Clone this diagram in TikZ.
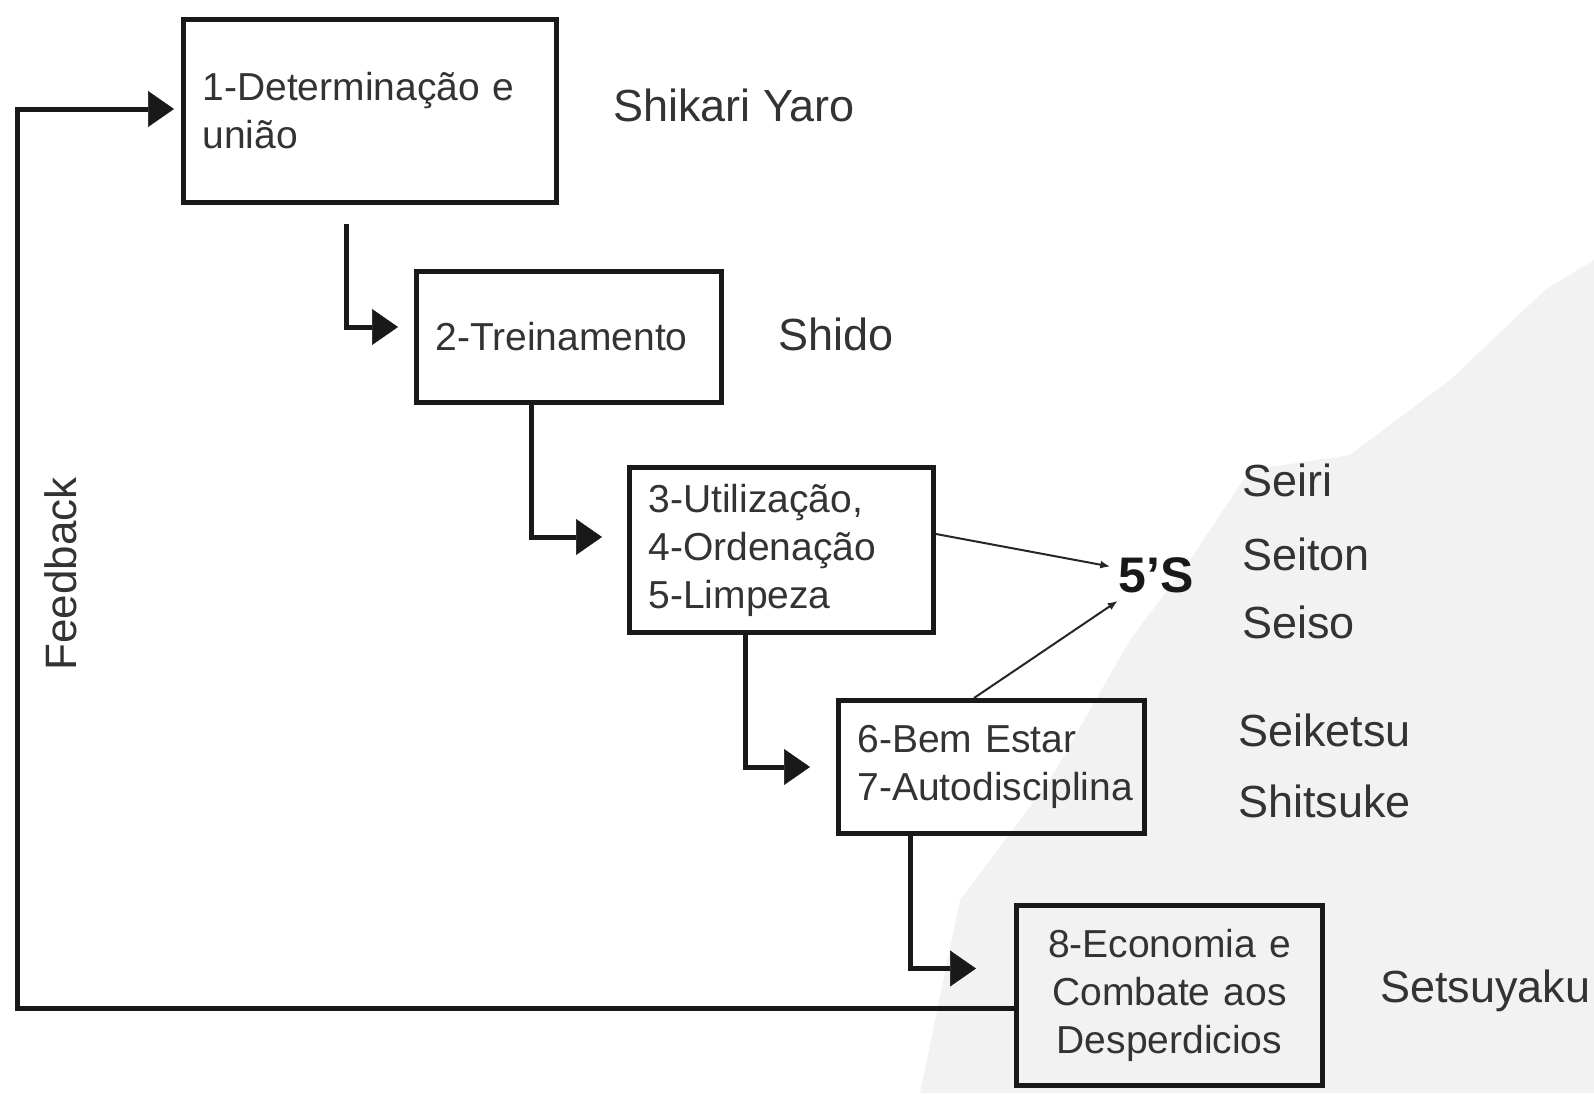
\documentclass[tikz,border=0pt]{standalone}
\usepackage{fontspec}
\setmainfont{Liberation Sans}
\usetikzlibrary{arrows.meta,calc}
\begin{document}
\begin{tikzpicture}[x=1pt,y=-1pt,
  stepbox/.style={draw=black!90, line width=5pt, inner xsep=19pt, inner ysep=0pt,
    align=left, font=\fontsize{39}{48}\selectfont, text=black!80},
  flow/.style={line width=5pt, draw=black!90,
    -{Triangle[length=26pt,width=36pt,line width=0.5pt]}},
  fine/.style={line width=2pt, draw=black!85, -{Latex[length=10pt,width=8pt]}},
  lbl/.style={font=\fontsize{45}{54}\selectfont, text=black!80, anchor=base west, inner sep=0pt},
]
\useasboundingbox (0,0) rectangle (1594,1093);
% faint watermark
\fill[black!5] (920,1093) -- (960,900) -- (1050,780) -- (1130,640) -- (1190,560)
  -- (1250,470) -- (1350,455) -- (1450,380) -- (1545,290) -- (1594,260) -- (1594,1093) -- cycle;

% boxes
\node[stepbox, text width=335pt, minimum height=183pt] (b1) at (370,111)
  {1-Determinação e\\união};
\node[stepbox, text width=267pt, minimum height=131pt] (b2) at (569,337)
  {2-Treinamento};
\node[stepbox, text width=266pt, minimum height=165pt] (b3) at (781.5,550)
  {3-Utilização,\\4-Ordenação\\5-Limpeza};
\node[stepbox, text width=268pt, minimum height=133pt] (b4) at (991.5,767)
  {6-Bem Estar\\\mbox{7-Autodisciplina}};
\node[stepbox, align=center, text width=268pt, minimum height=180pt] (b5) at (1169.5,995.5)
  {8-Economia e\\Combate aos\\Desperdicios};

% side labels
\node[lbl] (l1) at (613,121) {Shikari Yaro};
\node[lbl] (l2) at (778,350) {Shido};
\node[lbl] (l3) at (1242,496) {Seiri};
\node[lbl] (l4) at (1242,570) {Seiton};
\node[lbl] (l5) at (1242,638) {Seiso};
\node[lbl] (l6) at (1238,746) {Seiketsu};
\node[lbl] (l7) at (1238,817) {Shitsuke};
\node[lbl] (l8) at (1380,1002) {Setsuyaku};
\node[font=\bfseries\fontsize{50}{60}\selectfont, text=black!90, inner sep=8pt] (s5) at (1156,575) {5’S};
\node[font=\fontsize{44}{52}\selectfont, text=black!80, rotate=90, inner sep=0pt] (fb) at (61,574) {Feedback};

% connectors
\coordinate (fbc) at (17,500);
\draw[flow] ($(b1.south west)+(165,19)$) |- ($(b2.west)+(-16,-10)$);
\draw[flow] ($(b2.south west)+(117,0)$) |- ($(b3.west)+(-25,-13)$);
\draw[flow] ($(b3.south west)+(118,0)$) |- ($(b4.west)+(-26,0)$);
\draw[flow] ($(b4.south west)+(74,0)$) |- ($(b5.west)+(-38,-27)$);
\draw[flow] ($(b5.west)+(0,12.5)$) -| (fbc) |- ($(b1.west)+(-7,-2)$);
\draw[fine] ($(b3.east)+(0,-16)$) -- (s5);
\draw[fine] ($(b4.north)+(-17.5,0)$) -- (s5);
\end{tikzpicture}
\end{document}
